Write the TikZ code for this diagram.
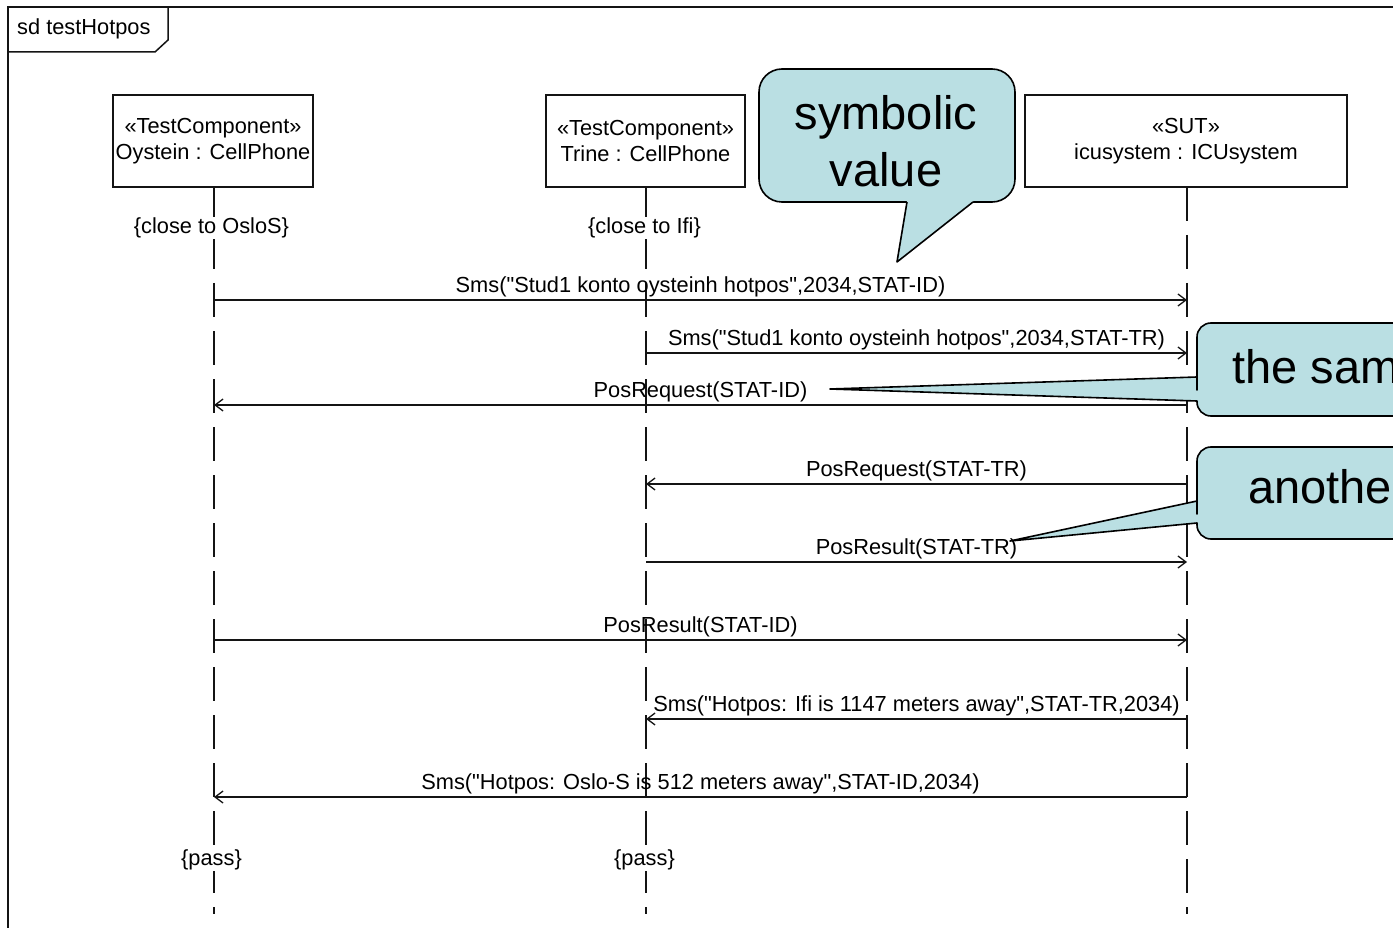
\documentclass[tikz,border=0pt]{standalone}
\usepackage{fontspec}
\setmainfont{Liberation Sans}[Ligatures=TeXOff]
\usetikzlibrary{arrows.meta}
\definecolor{callfill}{RGB}{186,223,227}
\definecolor{umlline}{RGB}{20,20,20}
\begin{document}
\begin{tikzpicture}[x=1pt,y=-1pt,
  uml/.style={font=\fontsize{21.8}{26}\selectfont, inner sep=0pt},
  headbox/.style={draw=umlline, line width=1.6pt, minimum height=92pt, align=center,
    font=\fontsize{21.8}{26}\selectfont, inner sep=0pt},
  life/.style={draw=umlline, line width=1.5pt, dash pattern=on 34pt off 14pt},
  msg/.style={draw=umlline, line width=1.4pt, -{Straight Barb[length=8pt,width=12pt,line width=1.3pt]}},
  mlabel/.style={uml, anchor=base, yshift=8pt},
  cons/.style={uml, fill=white, inner sep=1pt},
  callout/.style={draw=black, fill=callfill, line width=1.6pt, line join=round},
  wedgefill/.style={fill=callfill},
  wedgeline/.style={draw=black, line width=1.6pt, line join=round},
  big/.style={font=\fontsize{47}{57}\selectfont, inner sep=0pt}
]
\useasboundingbox (0,0) rectangle (1393,928);
\clip (0,0) rectangle (1393,928);
\fill[white] (0,0) rectangle (1393,928);

% frame
\draw[umlline, line width=1.5pt] (8,940) -- (8,7) -- (1400,7);
\draw[umlline, line width=1.5pt] (8,52) -- (155,52) -- (168,40) -- (168,7);
\node[uml, anchor=base west] (frametitle) at (17,35) {sd testHotpos};

% lifeline heads
\node[headbox, minimum width=200pt] (oy) at (213,141) {«TestComponent»\\Oystein : CellPhone};
\node[headbox, minimum width=199pt] (tr) at (645.5,141) {«TestComponent»\\Trine : CellPhone};
\node[headbox, minimum width=322pt] (ic) at (1186,141) {«SUT»\\icusystem : ICUsystem};

% lifeline ends
\coordinate (oyEnd) at (214,914);
\coordinate (trEnd) at (646,914);
\coordinate (icEnd) at (1187,914);
\draw[life] (214,187) -- (oyEnd);
\draw[life] (646,187) -- (trEnd);
\draw[life] (1187,187) -- (icEnd);

% constraints
\node[cons] (c1) at (211.5,228) {\{close to OsloS\}};
\node[cons] (c2) at (644.5,228) {\{close to Ifi\}};
\node[cons] (p1) at (211.5,860) {\{pass\}};
\node[cons] (p2) at (644.5,860) {\{pass\}};

% message end points
\coordinate (m1a) at (214,300);  \coordinate (m1b) at (1187,300);
\coordinate (m2a) at (646,353);  \coordinate (m2b) at (1187,353);
\coordinate (m3a) at (1187,405); \coordinate (m3b) at (214,405);
\coordinate (m4a) at (1187,484); \coordinate (m4b) at (646,484);
\coordinate (m5a) at (646,562);  \coordinate (m5b) at (1187,562);
\coordinate (m6a) at (214,640);  \coordinate (m6b) at (1187,640);
\coordinate (m7a) at (1187,719); \coordinate (m7b) at (646,719);
\coordinate (m8a) at (1187,797); \coordinate (m8b) at (214,797);

\draw[msg] (m1a) -- node[mlabel] (l1) {Sms("Stud1 konto oysteinh hotpos",2034,STAT-ID)} (m1b);
\draw[msg] (m2a) -- node[mlabel] (l2) {Sms("Stud1 konto oysteinh hotpos",2034,STAT-TR)} (m2b);
\draw[msg] (m3a) -- node[mlabel] (l3) {PosRequest(STAT-ID)} (m3b);
\draw[msg] (m4a) -- node[mlabel] (l4) {PosRequest(STAT-TR)} (m4b);
\draw[msg] (m5a) -- node[mlabel] (l5) {PosResult(STAT-TR)} (m5b);
\draw[msg] (m6a) -- node[mlabel] (l6) {PosResult(STAT-ID)} (m6b);
\draw[msg] (m7a) -- node[mlabel] (l7) {Sms("Hotpos: Ifi is 1147 meters away",STAT-TR,2034)} (m7b);
\draw[msg] (m8a) -- node[mlabel] (l8) {Sms("Hotpos: Oslo-S is 512 meters away",STAT-ID,2034)} (m8b);

% callout: symbolic value
\draw[callout, rounded corners=23pt] (759,69) rectangle (1015,202);
\fill[wedgefill] (906,197) -- (974,197) -- (973,202) -- (897,262) -- (907,202) -- cycle;
\draw[wedgeline] (907,202) -- (897,262) -- (973,202);
\node[big, anchor=base] (sym1) at (886,130) {symbolic};
\node[big, anchor=base] (sym2) at (886,187) {value};

% callout: the same
\draw[callout] (830,389) -- (1197,401) -- (1197,402) [rounded corners=14pt] -- (1197,416) -- (1450,416)
  -- (1450,323) -- (1197,323) -- (1197,376) [sharp corners] -- (1197,377) -- cycle;
\node[big, anchor=base west] (same) at (1232,383) {the same};

% callout: another
\draw[callout] (1010,541) -- (1197,523) -- (1197,524) [rounded corners=14pt] -- (1197,539) -- (1450,539)
  -- (1450,447) -- (1197,447) -- (1197,500) [sharp corners] -- (1197,501) -- cycle;
\node[big, anchor=base west] (anoth) at (1248,503) {another};
\end{tikzpicture}
\end{document}
